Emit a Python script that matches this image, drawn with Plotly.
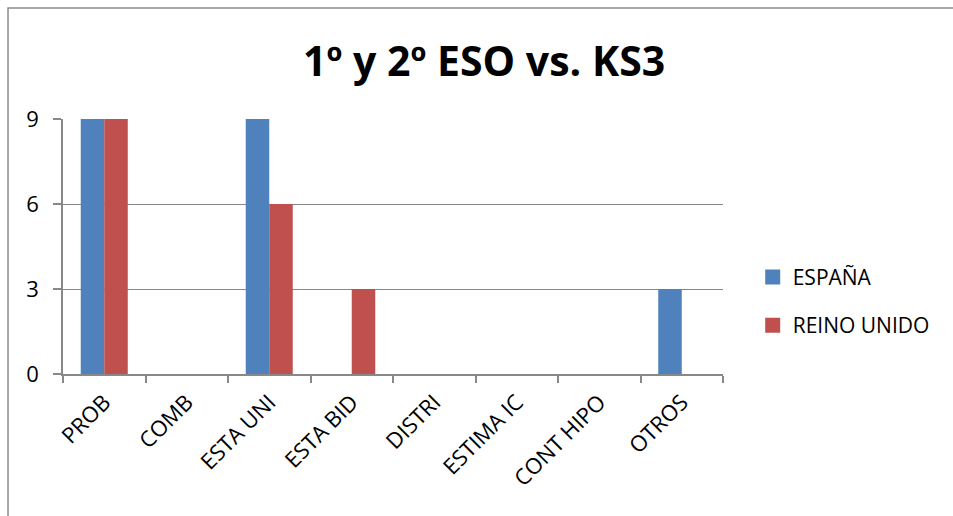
import plotly.graph_objects as go

categories = ["PROB", "COMB", "ESTA UNI", "ESTA BID", "DISTRI", "ESTIMA IC", "CONT HIPO", "OTROS"]
espana = [9, 0, 9, 0, 0, 0, 0, 3]
reino_unido = [9, 0, 6, 3, 0, 0, 0, 0]
y_ticks = [0, 3, 6, 9]

FONT = "Open Sans"
GRID = "#888888"
BLUE = "#4F81BD"
RED = "#C0504D"

fig = go.Figure()
fig.add_trace(go.Bar(
    x=categories, y=espana, name="ESPAÑA", showlegend=False,
    marker=dict(color=BLUE, line=dict(width=0)),
))
fig.add_trace(go.Bar(
    x=categories, y=reino_unido, name="REINO UNIDO", showlegend=False,
    marker=dict(color=RED, line=dict(width=0)),
))

# legend entries with square swatches
for name, color, grp in [("ESPAÑA", BLUE, "a"), ("REINO UNIDO", RED, "b")]:
    fig.add_trace(go.Scatter(
        x=[None], y=[None], mode="markers", name=name, legendgroup=grp,
        marker=dict(symbol="square", size=15, color=color),
    ))

fig.update_layout(
    width=953, height=516,
    margin=dict(l=63, r=230, t=119, b=142),
    paper_bgcolor="white", plot_bgcolor="white",
    barmode="group", bargap=0.43, bargroupgap=0.0,
    title=dict(text="<b>1º y 2º ESO vs. KS3</b>", x=0.508, xanchor="center",
               y=0.88, yanchor="middle",
               font=dict(family=FONT, size=41, color="black")),
    font=dict(family=FONT, size=22, color="black"),
    legend=dict(x=1.045, y=0.285, xanchor="left", yanchor="middle",
                tracegroupgap=18, font=dict(size=21),
                itemwidth=30, bgcolor="rgba(0,0,0,0)"),
    showlegend=True,
)

fig.update_xaxes(
    type="category", tickangle=-45, tickson="boundaries",
    ticks="outside", ticklen=7, tickcolor=GRID, tickwidth=1.5,
    ticklabelstandoff=5,
    showline=True, linecolor=GRID, linewidth=1.5,
    showgrid=False, tickfont=dict(size=22),
)
fig.update_yaxes(
    range=[0, 9], tickvals=y_ticks, ticks="outside", ticklen=8,
    tickcolor=GRID, tickwidth=1.5, ticklabelstandoff=10,
    showline=True, linecolor=GRID, linewidth=1.5,
    showgrid=True, gridcolor=GRID, gridwidth=1.2,
    zeroline=False, tickfont=dict(size=22),
)

# outer chart frame
fig.add_shape(type="rect", xref="paper", yref="paper",
              x0=-0.0833, x1=1.5, y0=-0.8, y1=1.435,
              line=dict(color="#8c8c8c", width=1.5), layer="below")

fig.write_html("out.html")
